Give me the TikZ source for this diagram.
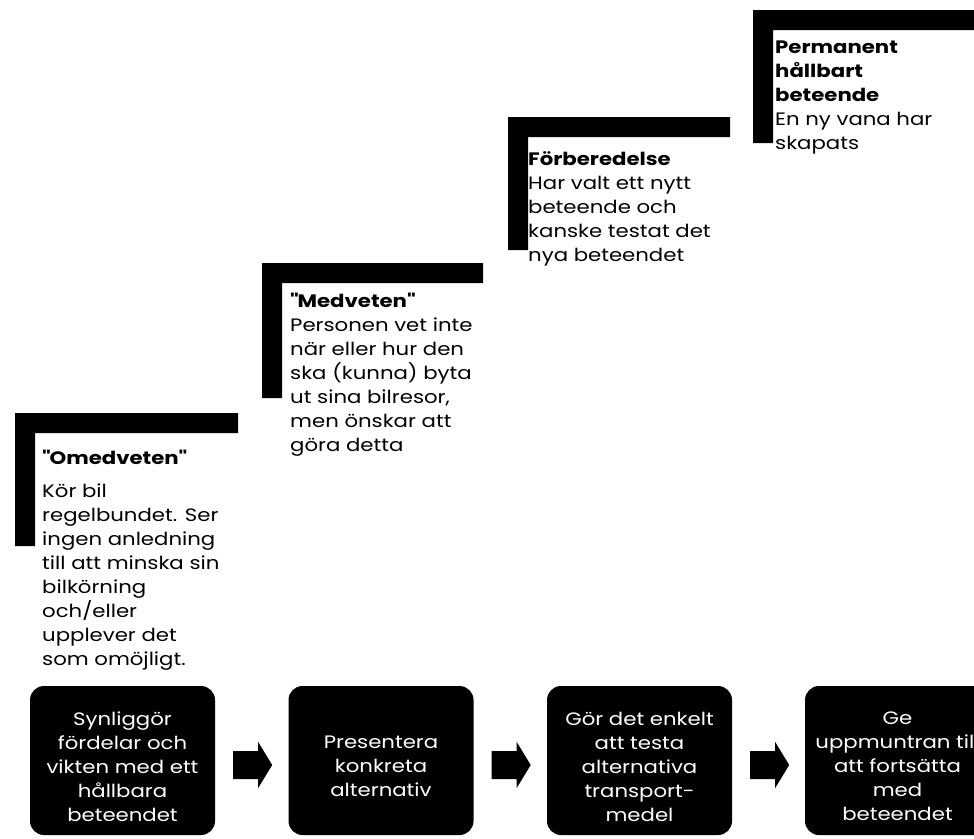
\documentclass[tikz,border=0pt]{standalone}
\usepackage{fontspec}
\setmainfont{Poppins}[FakeStretch=1.18]
\usetikzlibrary{calc}
\tikzset{
  txt/.style={anchor=north west, align=left, inner sep=0pt, font=\fontsize{18}{24}\selectfont},
  stepbox/.style={fill=black, rounded corners=14pt, minimum width=185pt, minimum height=149pt, inner sep=0pt},
  boxtext/.style={text=white, align=center, inner sep=0pt, font=\fontsize{18}{24}\selectfont},
  barfill/.style={fill=black}
}
\newcommand\bracketshape[4]{% x0, ytop, xright, ybottom
  \fill[barfill] (#1,#2) -- (#3,#2) -- (#3,#2+20) -- (#1+20,#2+20) -- (#1+20,#4) -- (#1,#4) -- cycle;}
\newcommand\blockarr[1]{%
  \fill[barfill] ([shift={(18,4.5)}]#1.east) ++(0,-14) -- ++(25,0) -- ++(0,-9) -- ++(14,23) -- ++(-14,23) -- ++(0,-9) -- ++(-25,0) -- cycle;}
\begin{document}
\begin{tikzpicture}[x=1pt,y=-1pt]
\useasboundingbox (0,0) rectangle (974,838);
\clip (0,0) rectangle (974,838);
% brackets
\bracketshape{15}{413}{238}{546}
\bracketshape{262}{263}{483}{398}
\bracketshape{508}{117}{730}{250}
\bracketshape{753}{10}{990}{143}
% stage texts (first baseline = y + 16.8)
\node[txt] (s1) at (42,447.2) {\strut\bfseries \textquotedbl Omedveten\textquotedbl\\[9pt]
Kör bil\\regelbundet. Ser\\ingen anledning\\till att minska sin\\bilkörning\\och/eller\\upplever det\\som omöjligt.};
\node[txt] (s2) at (290,290.2) {\strut\bfseries \textquotedbl Medveten\textquotedbl\\
Personen vet inte\\när eller hur den\\ska (kunna) byta\\ut sina bilresor,\\men önskar att\\göra detta};
\node[txt] (s3) at (528,148.2) {\strut\bfseries Förberedelse\\
Har valt ett nytt\\beteende och\\kanske testat det\\nya beteendet};
\node[txt] (s4) at (775,36.2) {\strut\bfseries Permanent\\\bfseries hållbart\\\bfseries beteende\\
En ny vana har\\skapats};
% bottom boxes
\node[stepbox] (b1) at (122.5,760.5) {};
\node[stepbox] (b2) at (381,760.5) {};
\node[stepbox] (b3) at (639.5,760.5) {};
\node[stepbox] (b4) at (897.5,760.5) {};
\node[boxtext] (t1) at ([yshift=-6pt]b1.center) {Synliggör\\fördelar och\\vikten med ett\\hållbara\\beteendet};
\node[boxtext] (t2) at ([yshift=-6pt]b2.center) {Presentera\\konkreta\\alternativ};
\node[boxtext] (t3) at ([yshift=-6pt]b3.center) {Gör det enkelt\\att testa\\alternativa\\transport-\\medel};
\node[boxtext] (t4) at ([yshift=-6pt]b4.center) {Ge\\uppmuntran till\\att fortsätta\\med\\beteendet};
\blockarr{b1}
\blockarr{b2}
\blockarr{b3}
\end{tikzpicture}
\end{document}
